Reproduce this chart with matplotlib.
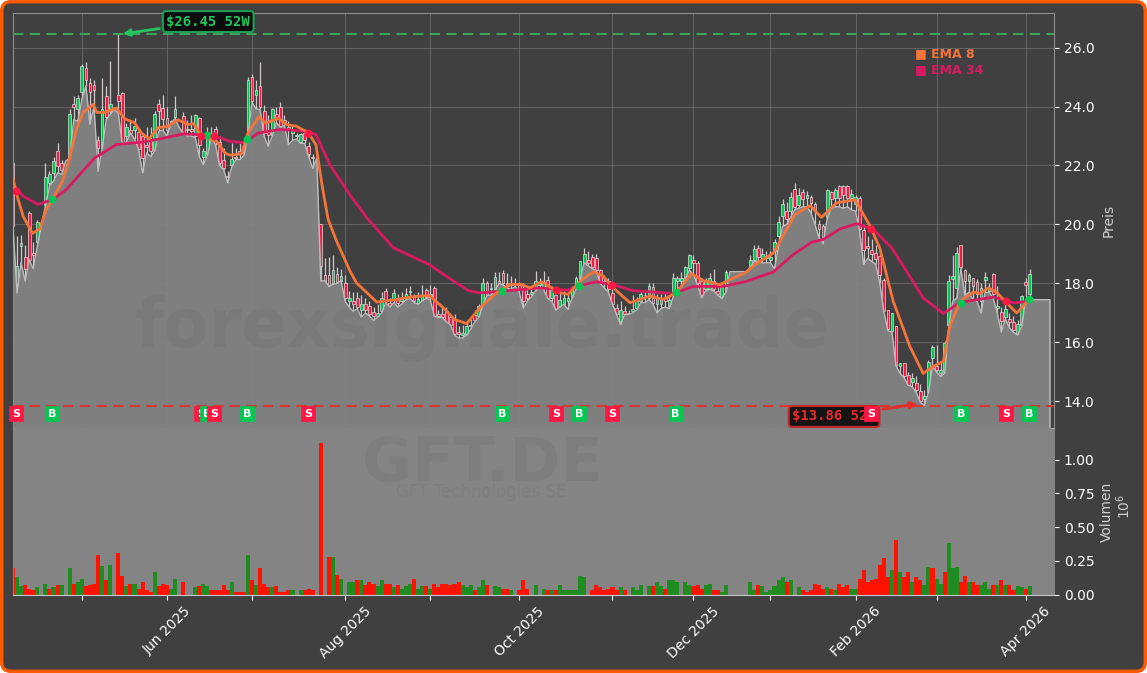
import numpy as np
import matplotlib
matplotlib.use("Agg")
import matplotlib.pyplot as plt
from matplotlib.patches import FancyBboxPatch

nan = float("nan")

# one row = 10 trading days
opens = [
    22.1, 17.97, 19.26, 18.9, 20.4, 19.04, 19.4, nan, 20.65, 21.4,
    21.75, 22.5, 22.1, nan, 22.25, 24.1, 23.9, 24.5, 25.3, 24.8,
    24.72, 22.85, 22.6, 24.37, 23.84, nan, 24.4, 24.45, 23.0, 23.2,
    23.2, 23.15, 23.0, 22.7, 22.82, 22.54, 24.1, 23.95, 23.6, 23.4,
    23.65, nan, 23.67, 23.2, 23.25, 23.0, 23.6, 22.3, 22.4, 23.1,
    23.25, 22.8, 22.2, 21.65, 22.0, 22.3, 22.5, 22.7, 23.05, 25.0,
    24.38, 24.68, 23.84, 23.15, 23.05, 23.75, 24.0, 23.55, 23.3, 23.1,
    23.0, 22.8, 23.1, 22.65, 22.3, nan, 20.0, 18.3, 18.3, 18.0,
    18.33, 18.1, 18.02, 17.4, 17.4, 17.5, 17.1, 17.3, 17.25, 17.03,
    16.9, 17.05, 17.75, 17.35, 17.45, 17.5, 17.4, 17.52, 17.7, 17.57,
    17.35, 17.45, 17.78, 17.55, 17.85, 16.95, 16.95, 17.05, 16.85, 16.78,
    16.35, 16.25, 16.3, 16.55, 16.92, 16.9, 17.3, 18.0, 17.8, 17.8,
    18.1, 18.35, 18.0, 17.95, 18.0, 17.95, 17.8, 17.65, 17.65, 17.8,
    17.95, 17.85, 18.13, 17.5, 17.6, 17.23, 17.32, 17.4, 17.55, 17.85,
    18.0, 18.7, 18.8, 18.9, 18.85, 18.45, 18.1, 18.1, 17.67, 17.17,
    16.72, 17.06, 17.0, 17.05, 17.17, 17.4, 17.6, 17.5, 17.88, 17.3,
    17.3, 17.5, 17.25, 17.6, 18.08, 18.1, 18.19, 18.53, 18.79, 18.68,
    18.08, 17.8, 17.82, 18.1, 17.73, 17.5, 17.74, nan, nan, nan,
    nan, nan, 18.6, 18.79, 19.2, 18.87, 18.85, 18.8, 19.09, 19.6,
    20.3, 20.45, 20.45, 21.2, 20.67, 21.09, 20.9, 20.92, 20.7, 20.0,
    19.95, 20.25, 21.09, 20.9, 21.32, 21.32, 21.32, 20.9, 20.7, 20.9,
    19.8, 19.28, 19.15, 19.05, 18.92, 18.13, 17.1, 16.4, 16.55, 15.2,
    15.3, 14.9, 14.67, 14.63, 14.37, 14.07, 14.33, 15.48, 15.2, 14.95,
    15.0, 16.58, 18.15, 17.85, 19.3, 18.45, 18.1, 18.17, 18.05, 17.4,
    18.13, 17.75, 18.33, 17.18, 17.04, 16.87, 16.8, 16.7, 16.3, 16.6,
    18.05, 17.66,
]
closes = [
    19.95, 18.59, 19.38, 18.5, 18.8, 18.96, 20.1, nan, 21.6, 21.7,
    22.15, 21.98, 21.85, nan, 23.75, 24.0, 24.3, 25.37, 24.9, 24.5,
    24.57, 22.6, 23.9, 23.65, 24.1, nan, 24.2, 22.77, 23.3, 23.1,
    23.35, 22.55, 22.26, 22.63, 22.48, 23.73, 23.84, 23.56, 23.2, 23.5,
    23.92, nan, 23.1, 23.25, 23.18, 23.7, 22.7, 22.5, 23.1, 23.0,
    22.98, 22.1, 21.92, 21.6, 22.23, 22.25, 22.43, 22.43, 24.9, 24.18,
    24.57, 24.0, 23.1, 23.05, 23.9, 23.6, 23.35, 23.45, 23.2, 23.2,
    23.02, 23.07, 22.88, 22.4, 22.27, nan, 18.58, 18.1, 17.93, 18.47,
    18.05, 18.25, 17.52, 17.5, 17.3, 17.2, 17.3, 17.1, 16.95, 16.9,
    17.0, 17.5, 17.4, 17.25, 17.68, 17.35, 17.5, 17.66, 17.75, 17.4,
    17.48, 17.62, 17.55, 17.65, 16.9, 16.9, 16.85, 16.7, 16.6, 16.27,
    16.3, 16.33, 16.57, 16.6, 16.75, 17.23, 18.02, 17.6, 17.85, 18.22,
    18.0, 18.0, 17.9, 18.0, 18.0, 17.8, 17.42, 17.5, 17.7, 18.1,
    18.0, 18.05, 17.5, 17.77, 17.15, 17.45, 17.5, 17.5, 17.85, 18.2,
    18.75, 19.0, 18.7, 18.55, 18.47, 18.03, 18.0, 17.8, 17.32, 16.98,
    17.1, 16.95, 17.0, 17.15, 17.45, 17.63, 17.6, 17.93, 17.35, 17.5,
    17.5, 17.4, 17.45, 18.2, 18.17, 18.2, 18.57, 18.95, 18.7, 18.0,
    17.55, 18.08, 18.19, 17.8, 17.65, 17.87, 18.4, nan, nan, nan,
    nan, nan, 18.8, 19.18, 18.9, 19.01, 18.92, 18.9, 19.41, 20.1,
    20.7, 20.2, 20.92, 20.58, 21.0, 20.87, 21.0, 20.73, 20.5, 19.85,
    19.5, 21.17, 20.87, 21.18, 20.9, 21.0, 20.9, 21.05, 20.93, 19.83,
    19.15, 19.2, 19.0, 18.83, 18.28, 17.06, 16.44, 17.0, 15.2, 15.3,
    14.85, 14.55, 14.78, 14.38, 14.03, 14.18, 15.35, 15.85, 15.05, 15.08,
    15.99, 18.1, 18.27, 19.05, 18.55, 18.08, 18.3, 17.9, 17.63, 17.85,
    18.22, 17.85, 17.63, 17.25, 16.72, 17.14, 16.7, 16.42, 16.64, 17.57,
    17.95, 18.33,
]
highs = [
    22.15, 19.6, 19.66, 19.3, 20.45, 19.4, 20.15, nan, 22.1, 21.8,
    22.3, 22.75, 22.2, nan, 23.9, 24.35, 24.4, 25.45, 25.5, 24.95,
    24.9, 23.0, 24.95, 24.7, 25.55, nan, 26.45, 24.5, 23.45, 23.5,
    23.6, 23.2, 23.1, 23.3, 23.3, 23.85, 24.25, 24.4, 24.0, 23.55,
    24.35, nan, 23.8, 23.55, 23.7, 23.75, 23.65, 22.6, 23.3, 23.3,
    23.35, 23.0, 22.6, 21.8, 22.75, 22.6, 22.75, 22.85, 25.0, 25.1,
    24.9, 25.5, 24.05, 23.7, 23.95, 24.0, 24.15, 23.7, 23.5, 23.35,
    23.1, 23.1, 23.25, 22.8, 22.4, nan, 20.0, 18.85, 18.9, 18.95,
    18.55, 18.5, 18.3, 17.74, 17.7, 17.7, 17.6, 17.5, 17.4, 17.2,
    17.3, 17.7, 17.85, 17.5, 17.8, 17.65, 17.7, 17.85, 17.9, 17.65,
    17.7, 17.95, 17.85, 17.95, 17.9, 17.1, 17.2, 17.2, 17.0, 16.95,
    16.55, 16.6, 16.7, 16.8, 17.1, 17.3, 18.2, 18.1, 18.0, 18.4,
    18.4, 18.45, 18.35, 18.25, 18.2, 18.05, 18.0, 17.9, 17.9, 18.43,
    18.2, 18.43, 18.25, 17.9, 17.65, 17.7, 17.75, 17.65, 17.9, 18.25,
    18.75, 19.2, 19.1, 19.0, 19.0, 18.5, 18.3, 18.2, 17.8, 17.3,
    17.4, 17.25, 17.1, 17.6, 17.55, 17.7, 17.7, 18.0, 18.0, 17.65,
    17.65, 17.7, 17.6, 18.35, 18.25, 18.4, 18.6, 19.0, 18.95, 18.75,
    18.2, 18.2, 18.35, 18.5, 18.0, 18.0, 18.45, nan, nan, nan,
    nan, nan, 18.95, 19.3, 19.3, 19.2, 19.1, 19.1, 19.5, 20.3,
    20.85, 20.75, 21.1, 21.4, 21.25, 21.2, 21.15, 21.0, 20.75, 20.15,
    20.0, 21.2, 21.15, 21.25, 21.35, 21.35, 21.35, 21.2, 21.0, 20.95,
    19.95, 19.6, 19.5, 19.3, 19.1, 18.2, 17.1, 17.0, 16.55, 15.3,
    15.3, 15.0, 14.95, 14.85, 14.6, 14.4, 15.4, 15.9, 15.9, 15.3,
    16.05, 18.3, 18.95, 19.25, 19.3, 18.5, 18.35, 18.2, 18.15, 18.0,
    18.4, 18.0, 18.35, 17.9, 17.2, 17.35, 17.0, 16.9, 16.75, 17.6,
    18.2, 18.5,
]
lows = [
    19.9, 17.68, 18.7, 18.08, 18.8, 18.5, 19.27, 19.94, 20.62, 21.3,
    21.47, 21.75, 21.7, 22.15, 22.25, 23.55, 23.5, 24.24, 24.7, 23.4,
    24.0, 21.8, 22.55, 23.55, 23.73, 23.9, 23.78, 22.7, 22.8, 23.1,
    22.9, 22.55, 21.75, 22.43, 22.3, 22.5, 23.16, 23.2, 23.0, 23.4,
    23.6, 23.3, 23.1, 23.0, 23.0, 22.95, 22.3, 22.03, 22.35, 22.94,
    22.7, 22.0, 21.86, 21.41, 21.95, 22.2, 22.2, 22.35, 23.0, 24.15,
    23.92, 23.9, 23.0, 22.65, 23.0, 23.45, 23.3, 23.35, 22.7, 22.85,
    22.9, 22.75, 22.75, 22.3, 21.9, 22.25, 18.08, 18.1, 17.9, 17.97,
    18.0, 18.1, 17.4, 17.2, 17.05, 17.15, 16.85, 17.0, 16.9, 16.75,
    16.85, 17.0, 17.35, 17.2, 17.35, 17.2, 17.3, 17.45, 17.5, 17.35,
    17.3, 17.4, 17.5, 17.45, 16.9, 16.85, 16.85, 16.7, 16.6, 16.25,
    16.15, 16.15, 16.25, 16.45, 16.7, 16.85, 17.25, 17.6, 17.6, 17.75,
    18.0, 17.95, 17.85, 17.8, 17.9, 17.7, 17.17, 17.4, 17.55, 17.75,
    17.85, 17.8, 17.5, 17.4, 17.1, 17.2, 17.3, 17.12, 17.5, 17.8,
    18.1, 18.7, 18.6, 18.5, 18.45, 18.0, 17.85, 17.7, 17.3, 16.95,
    16.61, 16.95, 16.95, 17.0, 17.1, 17.35, 17.35, 17.45, 17.3, 17.0,
    17.15, 17.2, 17.15, 17.55, 17.8, 17.9, 18.15, 18.45, 18.3, 17.95,
    17.52, 17.75, 17.8, 17.75, 17.6, 17.5, 17.7, 18.4, 18.4, 18.4,
    18.4, 18.4, 18.55, 18.75, 18.75, 18.7, 18.7, 18.7, 18.5, 19.26,
    19.94, 20.0, 20.25, 20.5, 20.55, 20.6, 20.6, 20.4, 20.0, 19.55,
    19.35, 20.2, 20.55, 20.6, 20.6, 20.55, 20.6, 20.5, 20.45, 19.8,
    18.65, 18.85, 18.75, 18.65, 18.0, 17.05, 16.4, 16.35, 15.2, 14.95,
    14.8, 14.55, 14.5, 14.3, 13.98, 13.86, 14.3, 15.2, 15.0, 14.85,
    14.95, 16.55, 17.4, 17.5, 18.5, 17.6, 17.7, 17.45, 17.4, 17.0,
    17.7, 17.7, 17.5, 17.0, 16.35, 16.8, 16.5, 16.35, 16.25, 16.55,
    17.45, 17.45,
]
volume = [
    0.20, 0.13, 0.06, 0.074, 0.042, 0.03, 0.054, 0, 0.08, 0.042,
    0.054, 0.067, 0.067, 0, 0.20, 0.08, 0.096, 0.116, 0.062, 0.074,
    0.08, 0.29, 0.21, 0.104, 0.22, 0, 0.31, 0.14, 0.06, 0.08,
    0.08, 0.04, 0.096, 0.035, 0.022, 0.17, 0.06, 0.08, 0.074, 0.042,
    0.116, 0, 0.089, 0, 0, 0.052, 0.06, 0.08, 0.06, 0.035,
    0.03, 0.03, 0.067, 0.037, 0.089, 0.022, 0.022, 0.022, 0.29, 0.104,
    0.067, 0.20, 0.08, 0.052, 0.052, 0.06, 0.022, 0.022, 0.037, 0.037,
    0, 0.03, 0.03, 0.044, 0.037, 0, 1.12, 0, 0.28, 0.28,
    0.148, 0.118, 0, 0.096, 0.089, 0.104, 0.11, 0.074, 0.089, 0.08,
    0.06, 0.11, 0.08, 0.08, 0.052, 0.074, 0.042, 0.06, 0.08, 0.118,
    0.044, 0.06, 0.06, 0.044, 0.08, 0.052, 0.08, 0.08, 0.067, 0.08,
    0.096, 0.067, 0.052, 0.067, 0.037, 0.052, 0.11, 0.067, 0, 0.06,
    0.052, 0.044, 0.044, 0.03, 0, 0.037, 0.104, 0.044, 0, 0.067,
    0, 0.044, 0.037, 0.03, 0.037, 0.067, 0.03, 0.037, 0.03, 0.03,
    0.14, 0.126, 0, 0.03, 0.067, 0.052, 0.03, 0.044, 0.052, 0.037,
    0.052, 0.03, 0, 0.052, 0.037, 0.074, 0, 0.06, 0.06, 0.096,
    0.06, 0.044, 0.104, 0.11, 0.096, 0, 0.096, 0.074, 0.06, 0.067,
    0.044, 0.067, 0.08, 0.037, 0.037, 0.022, 0.074, 0, 0, 0,
    0, 0, 0.096, 0.037, 0.067, 0.06, 0.015, 0.037, 0.06, 0.104,
    0.126, 0.089, 0.104, 0, 0.052, 0.037, 0.022, 0.03, 0.08, 0.067,
    0.044, 0.052, 0.044, 0.037, 0.08, 0.052, 0.067, 0.044, 0.044, 0.118,
    0.185, 0.089, 0.104, 0.118, 0.222, 0.267, 0.126, 0.185, 0.407, 0.17,
    0.126, 0.163, 0.096, 0.133, 0.11, 0.074, 0.207, 0.193, 0.118, 0.08,
    0.17, 0.385, 0.20, 0.207, 0.089, 0.14, 0.089, 0.096, 0.067, 0.067,
    0.096, 0.044, 0.074, 0.067, 0.11, 0.074, 0.067, 0.037, 0.06, 0.052,
    0.044, 0.06,
]
vol_up = [
    0, 1, 1, 0, 0, 0, 1, 0, 1, 0, 1, 0, 1, 0, 1, 0, 1, 1, 0, 0,
    0, 0, 1, 0, 1, 0, 0, 0, 1, 0, 1, 0, 0, 0, 0, 1, 0, 0, 0, 1,
    1, 0, 0, 0, 0, 1, 0, 1, 1, 0, 0, 0, 0, 0, 1, 0, 0, 0, 1, 0,
    1, 0, 0, 0, 1, 0, 0, 0, 0, 1, 0, 1, 0, 0, 0, 0, 0, 0, 0, 1,
    0, 1, 0, 1, 1, 0, 1, 0, 0, 0, 1, 1, 0, 0, 1, 0, 1, 1, 1, 0,
    1, 1, 0, 1, 0, 0, 0, 0, 0, 0, 0, 1, 1, 1, 0, 1, 1, 0, 0, 1,
    1, 0, 0, 1, 0, 0, 0, 0, 0, 1, 0, 1, 0, 1, 0, 1, 1, 1, 1, 1,
    1, 1, 0, 0, 0, 0, 0, 0, 0, 0, 1, 0, 0, 1, 1, 1, 0, 1, 0, 1,
    1, 0, 1, 1, 1, 0, 1, 1, 0, 0, 0, 1, 1, 0, 0, 1, 1, 0, 0, 0,
    0, 0, 1, 1, 0, 1, 1, 1, 1, 1, 1, 0, 1, 0, 1, 0, 0, 0, 0, 0,
    0, 1, 0, 1, 0, 0, 0, 1, 1, 0, 0, 0, 0, 0, 0, 0, 0, 1, 0, 1,
    0, 0, 1, 0, 0, 1, 1, 0, 1, 1, 0, 1, 1, 1, 0, 0, 1, 0, 0, 1,
    1, 1, 0, 1, 0, 1, 0, 0, 1, 1, 0, 1,
]

ema8_x = [0, 0.8, 2.5, 4.8, 6.6, 8.2, 10, 12.3, 14, 15.6, 17.3, 19.8, 20.7, 22.6, 25.5, 27.6,
          30, 31.7, 33.6, 35.8, 38.3, 40.7, 43.2, 44.6, 46.5, 50.3, 52.3, 53.5, 56.4, 58,
          60.7, 62.4, 65.5, 67.5, 70, 73, 74.8, 76.2, 77.8, 79.9, 83.2, 84.8, 89.8, 93.9,
          98.4, 102.8, 106.2, 109, 112, 115.3, 119.4, 122.7, 125.5, 127.6, 130.5, 133,
          134.6, 137.1, 140, 143.3, 145.7, 148.2, 152.3, 154.8, 157.2, 160.5, 163, 164.7,
          167.5, 170.4, 174.5, 177, 181, 183.2, 187.7, 189.8, 193, 196.8, 199.6, 203.3,
          207.9, 211.6, 214, 217.3, 221.4, 224.7, 227.2, 229.7, 231.3, 233.8, 237.1, 238.7,
          240.8, 242.8, 244.9, 247.8, 250.8]
ema8_y = [21.58, 21.07, 20.28, 19.7, 19.85, 20.5, 20.9, 21.5, 22.26, 23.2, 23.8, 24.07, 23.8, 23.8, 23.95, 23.58,
          23.45, 23.1, 22.9, 23.28, 23.33, 23.55, 23.39, 23.42, 23.0, 22.82, 22.43, 22.35, 22.39, 23.1,
          23.65, 23.44, 23.6, 23.39, 23.33, 23.1, 22.7, 21.41, 20.17, 19.43, 18.42, 18.02, 17.37, 17.44,
          17.55, 17.59, 17.18, 16.78, 16.64, 17.18, 17.68, 17.97, 17.97, 17.85, 18.06, 17.85,
          17.7, 17.63, 18.08, 18.4, 18.25, 17.85, 17.35, 17.46, 17.57, 17.46, 17.63, 17.85,
          18.33, 18.1, 17.96, 18.13, 18.38, 18.64, 19.03, 19.54, 20.33, 20.64, 20.24, 20.73,
          20.84, 19.94, 19.2, 17.4, 15.87, 14.95, 15.19, 15.36, 16.55, 17.4, 17.71, 17.66,
          17.85, 17.71, 17.4, 17.0, 17.45]
ema34_x = [0, 2.5, 6.2, 9.9, 13.2, 16.5, 20.2, 25.5, 31.7, 36.2, 42, 46.1, 49.8, 53.5, 57.2, 60.5,
           65.9, 72.5, 74.8, 78.2, 83.2, 87.7, 93.9, 102.8, 107.9, 112.4, 115.3, 121, 130.1,
           136.7, 140, 144, 147.8, 153, 163, 164.7, 167.9, 175.3, 181, 187.7, 192.6, 197.2,
           200, 204.2, 208.3, 212.4, 217, 221.4, 224.7, 229.7, 233.8, 238, 242.1, 247, 250.8]
ema34_y = [21.36, 20.96, 20.68, 20.85, 21.19, 21.7, 22.26, 22.71, 22.79, 22.9, 23.07, 23.05, 23.01, 22.82, 22.77, 23.1,
           23.22, 23.16, 23.05, 22.03, 21.0, 20.17, 19.21, 18.64, 18.16, 17.76, 17.68, 17.74, 17.85,
           17.77, 17.93, 18.06, 17.97, 17.76, 17.66, 17.74, 17.9, 17.9, 18.07, 18.39, 18.98, 19.4,
           19.49, 19.85, 20.03, 19.83, 19.2, 18.24, 17.51, 16.98, 17.36, 17.45, 17.54, 17.34, 17.39]

buy_x = [9.6, 47.9, 57.7, 120.8, 139.7, 163.6, 234, 250.8]
buy_y = [20.85, 23.05, 22.9, 17.76, 17.93, 17.72, 17.34, 17.48]
sell_x = [0.7, 46.4, 49.6, 72.8, 134, 147.9, 211.8, 245.1]
sell_y = [21.15, 23.0, 23.0, 23.1, 17.77, 17.95, 19.83, 17.4]

tick_pos = [17, 38, 59, 82, 103, 125, 148, 168, 187, 208, 228, 250]
tick_labels = ["", "Jun 2025", "", "Aug 2025", "", "Oct 2025", "", "Dec 2025", "", "Feb 2026", "", "Apr 2026"]

BG = "#404040"
AREA = "#848484"
UP = "#00c853"
DOWN = "#ff1744"
ORANGE = "#f4743b"
CRIMSON = "#d81b60"
LIGHT = "#dcdcdc"

fig = plt.figure(figsize=(11.47, 6.73), dpi=100, facecolor="white")
fig.patches.append(FancyBboxPatch((0.0015, 0.0025), 0.997, 0.995, transform=fig.transFigure,
                                  boxstyle="round,pad=0,rounding_size=0.008", mutation_aspect=1.7,
                                  facecolor=BG, edgecolor="#ff5a00", linewidth=2.5, zorder=-5))

ax = fig.add_axes([13 / 1147, 245 / 673, 1041 / 1147, 415 / 673], facecolor=BG)
ax2 = fig.add_axes([13 / 1147, 78.5 / 673, 1041 / 1147, 165.5 / 673], facecolor=AREA)

x = np.arange(len(closes))
o = np.array(opens)
c = np.array(closes)
h = np.array(highs)
l = np.array(lows)

# candles sit under the area, so the part below the lows washes out
ax.vlines(x, l, h, color="#cfc8c8", lw=0.9, zorder=2)
up = c >= o
ax.bar(x[up], (c - o)[up], bottom=o[up], width=0.68, color=UP, edgecolor=LIGHT, linewidth=0.5, zorder=2.2)
ax.bar(x[~up], (o - c)[~up], bottom=c[~up], width=0.68, color=DOWN, edgecolor=LIGHT, linewidth=0.5, zorder=2.2)

area_x = np.append(x, [256, 256])
area_y = np.append(l, [l[-1], 13.0])
ax.fill_between(area_x, area_y, 13.0, color=AREA, alpha=0.94, lw=0, zorder=3)
ax.plot(area_x, area_y, color="#bdbdbd", lw=1, zorder=3.1)

ax.plot(ema34_x, ema34_y, color=CRIMSON, lw=2, zorder=4)
ax.plot(ema8_x, ema8_y, color=ORANGE, lw=2, zorder=4.1)
ax.scatter(buy_x, buy_y, s=22, color=UP, zorder=5)
ax.scatter(sell_x, sell_y, s=22, color=DOWN, zorder=5)

ax.axhline(26.45, color="#3ca35f", lw=1.5, ls=(0, (5, 3)), zorder=3.5)
ax.axhline(13.86, color="#d93636", lw=1.5, ls=(0, (5, 3)), zorder=3.5)

ax.annotate("$26.45 52W", xy=(26.4, 26.45), xytext=(48.2, 26.88), color="#22c55e", fontsize=10,
            family="monospace", weight="bold", ha="center", va="center", zorder=7,
            bbox=dict(boxstyle="round,pad=0.25", fc="#0b0b0b", ec="#1f9d55", lw=1.5),
            arrowprops=dict(arrowstyle="-|>", color="#22c55e", lw=2))
ax.annotate("$13.86 52W", xy=(224, 13.93), xytext=(202.7, 13.49), color="#e62b2b", fontsize=10,
            family="monospace", weight="bold", ha="center", va="center", zorder=7,
            bbox=dict(boxstyle="round,pad=0.25", fc="#141414", ec="#c62828", lw=1.5),
            arrowprops=dict(arrowstyle="-|>", color="#e62b2b", lw=2))

# later signals lie over earlier ones
for i in buy_x:
    ax.text(i, 13.59, "B", color="white", fontsize=8, weight="bold", ha="center", va="center", zorder=8 + i / 1000,
            bbox=dict(boxstyle="square,pad=0.25", fc=UP, ec=UP, lw=0.5))
for i in sell_x:
    ax.text(i, 13.59, "S", color="white", fontsize=8, weight="bold", ha="center", va="center", zorder=8 + i / 1000,
            bbox=dict(boxstyle="square,pad=0.25", fc=DOWN, ec=DOWN, lw=0.5))

ax.text(0.8665, 0.903, "■ EMA 8", transform=ax.transAxes, color=ORANGE, fontsize=9, weight="bold", va="center")
ax.text(0.8665, 0.864, "■ EMA 34", transform=ax.transAxes, color=CRIMSON, fontsize=9, weight="bold", va="center")

ax.set_xlim(0, 257)
ax.set_ylim(13.1, 27.17)
ax.set_yticks([14, 16, 18, 20, 22, 24, 26])
ax.set_yticklabels(["14.0", "16.0", "18.0", "20.0", "22.0", "24.0", "26.0"])
ax.set_xticks(tick_pos)
ax.tick_params(axis="x", bottom=False, labelbottom=False)
ax.tick_params(axis="y", left=False, labelleft=False, right=True, labelright=True, colors="white", labelsize=10)
ax.set_axisbelow(True)
ax.grid(True, color="#8a8a8a", lw=0.8, alpha=0.45)
ax.yaxis.set_label_position("right")
ax.set_ylabel("Preis", color="#d0d0d0", fontsize=10, labelpad=5)
for s in ax.spines.values():
    s.set_color("#8c8c8c")
ax.spines["bottom"].set_color("#a8a8a8")

v = np.array(volume)
vc = ["#1e8c1e" if u else "#ff1200" for u in vol_up]
ax2.bar(x, v, width=1.0, color=vc, lw=0)
ax2.set_xlim(0, 257)
ax2.set_ylim(0, 1.226)
ax2.set_yticks([0, 0.25, 0.5, 0.75, 1.0])
ax2.set_yticklabels(["0.00", "0.25", "0.50", "0.75", "1.00"])
ax2.set_xticks(tick_pos)
ax2.set_xticklabels(tick_labels, rotation=45, ha="center")
ax2.tick_params(axis="x", colors="white", labelsize=10)
ax2.tick_params(axis="y", left=False, labelleft=False, right=True, labelright=True, colors="white", labelsize=10)
ax2.yaxis.set_label_position("right")
ax2.set_ylabel("Volumen", color="#d0d0d0", fontsize=10, labelpad=4)
ax2.text(1.0665, 0.53, r"$\mathdefault{10^{6}}$", transform=ax2.transAxes, rotation=90, color="#d0d0d0",
         fontsize=10, ha="center", va="center")
for name, s in ax2.spines.items():
    s.set_color("#c8c8c8" if name == "bottom" else AREA)

# watermarks stay on top of both panels
fig.text(482 / 1147, 1 - 328 / 673, "forexsignale.trade", fontsize=48, weight="bold", color="black",
         alpha=0.04, ha="center", va="center", zorder=20)
fig.text(482 / 1147, 1 - 465 / 673, "GFT.DE", fontsize=44, weight="bold", color="black",
         alpha=0.04, ha="center", va="center", zorder=20)
fig.text(481 / 1147, 1 - 492 / 673, "GFT Technologies SE", fontsize=12, color="black",
         alpha=0.04, ha="center", va="center", zorder=20)

fig.savefig("out.png", facecolor=fig.get_facecolor())
